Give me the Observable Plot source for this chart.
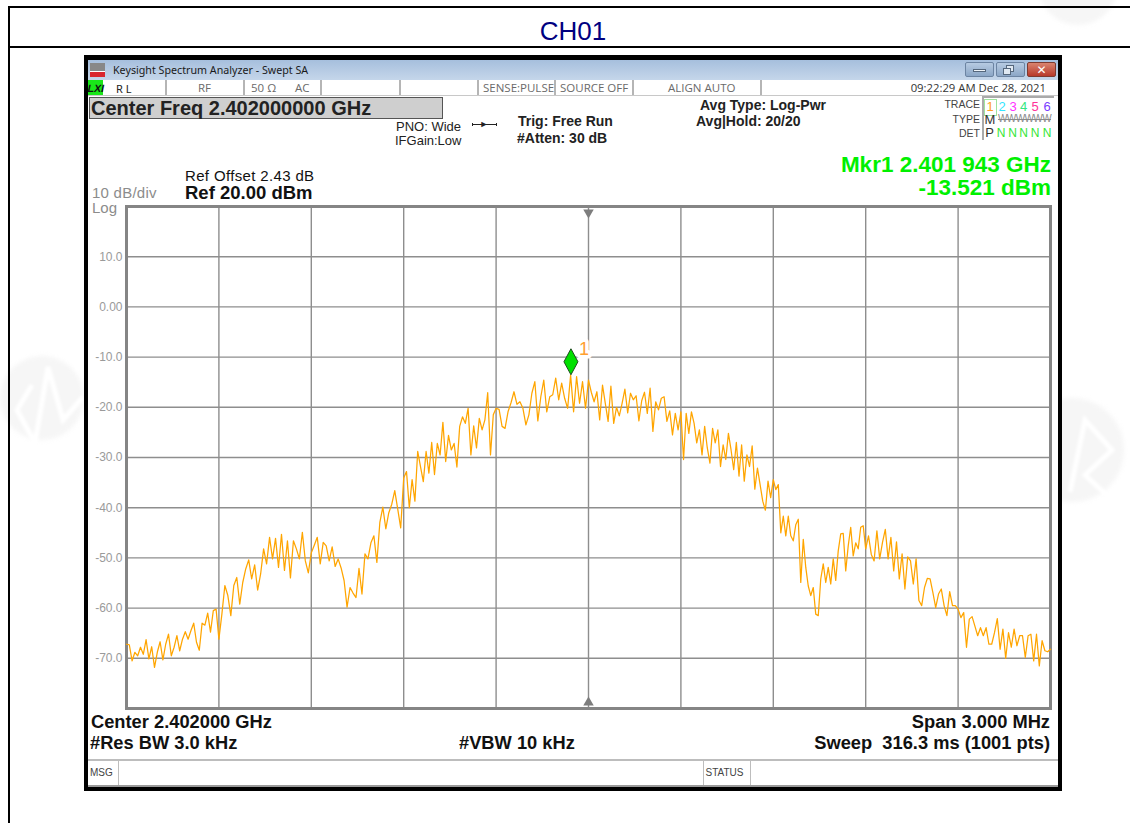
<!DOCTYPE html>
<html>
<head>
<meta charset="utf-8">
<script src="https://cdn.jsdelivr.net/npm/d3@7"></script>
<script src="https://cdn.jsdelivr.net/npm/@observablehq/plot@0.6"></script>
<style>
html,body{margin:0;padding:0;background:#fff;width:1130px;height:823px;overflow:hidden;font-family:"Liberation Sans",Arial,sans-serif}
#page{position:relative;width:1130px;height:823px;overflow:hidden}
.t{position:absolute;white-space:pre;line-height:1;transform:translateY(-50%)}
.r{transform:translate(-100%,-50%)}
.b{font-weight:bold}
.box{position:absolute;box-sizing:border-box}
.st{color:#6a6a6a;font-size:11.5px;font-family:"Open Sans","Noto Sans",sans-serif}
.wm{position:absolute;border-radius:50%;background:#f6f6f6;filter:blur(2px)}
</style>
</head>
<body>
<div id="page"></div>
<script>
// Trace 1 readings, dBm, one list per horizontal division (evenly spread over that division)
const div1 = [-67.2,-67.3,-70.5,-68.8,-69.5,-67.8,-69.2,-66.3,-70.1,-67.7,-71.8,-68.8,-66.7,-70.3,-67.2,-65.2,-69.5,-67.8,-65.5,-68.5,-66.2,-64.7,-66.2,-64.5,-63.0,-66.8,-68.4,-63,-63.4,-61,-64.8,-60.5,-60.2];
const div2 = [-66.2,-61.2,-55.5,-57.5,-61.5,-55.5,-53.9,-59.2,-54.9,-52.2,-50.4,-54.2,-51.4,-56.4,-53.2,-48.2,-51.2,-45.9,-50.2,-46.1,-51.9,-45.3,-52.5,-46.6,-54,-46.6,-48.2,-50.2,-44.9,-50.6,-53];
const div3 = [-49,-47.5,-45.9,-51.2,-46.9,-47.6,-50.6,-47.8,-51.7,-50.2,-52,-54.5,-59.8,-55.9,-57,-57.9,-52.1,-57.2,-49.2,-50.2,-47,-45.6,-50.9,-42.9,-39.9,-44.2,-41,-39.3,-36.6,-40.3,-44];
const div4 = [-34.1,-32.8,-40,-34.4,-38.7,-28.8,-31.8,-34.8,-28.8,-33.1,-27,-33.4,-27.2,-29.5,-23,-30.8,-25.6,-28.5,-27.2,-31.9,-23.8,-21.9,-23.2,-20.2,-29.5,-23.7,-28.1,-22.2,-24.5,-22.5,-17.1,-29.5,-21.5];
const div5 = [-20.2,-20.4,-23.8,-24.2,-20.9,-19.1,-16.9,-19.4,-18.9,-20.2,-23.5,-21.5,-17.2,-14.9,-22.7,-17.9,-14.6,-20.9,-17.9,-17.5,-14.2,-18.5,-15.2,-18.2,-20.2,-13.6,-20.9,-13.9,-19.2,-14.9,-20.2];
const div6 = [-14.6,-17,-18.9,-16.9,-22.5,-15.6,-19.2,-22.8,-15.8,-23.2,-20,-21.7,-19.2,-16.4,-21.1,-17.2,-18.5,-17.7,-22.7,-18.7,-17,-21.2,-16.2,-24.8,-18.9,-20.5,-18.2,-17.9,-22.8,-20.7,-25.5,-21.2,-24.5];
const div7 = [-20.9,-30.4,-21.2,-25.2,-20.9,-23.2,-27.1,-24.5,-29.5,-23.8,-28.1,-31.1,-24.2,-27.1,-24.5,-31.8,-27.5,-30.4,-25.2,-28.5,-32.4,-27,-33.7,-27.5,-34.7,-29.5,-31.8,-27.7,-36.3,-32.1,-35.4,-38.7,-40.5,-34.7,-38];
const div8 = [-34.4,-36.4,-35.4,-45,-41.7,-45.6,-41.7,-45.6,-46.6,-43.4,-42.3,-54.9,-46.3,-51.9,-55.6,-57.5,-55.9,-61.2,-61.5,-54.2,-51.2,-54.9,-51.9,-55.2,-50.2,-54.5,-48.6,-45.2,-45.1,-52.6,-47.6,-43.9,-49.6,-47,-48.2,-43.9,-43.6];
const div9 = [-48.2,-45.6,-49.3,-50.6,-44.6,-50.2,-46.9,-44.3,-50.2,-45.9,-52.6,-46.8,-54.2,-49.2,-56.2,-49.8,-50.6,-55.2,-50.2,-58.5,-59.5,-55.9,-54.1,-54.2,-56.9,-59.9,-57.2,-56.2,-59.5,-61.5,-56.7,-59.5,-59.5];
const div10 = [-60.2,-61.9,-60.9,-67.8,-62.2,-61.7,-63.6,-65.5,-63.9,-65.5,-63.9,-67.2,-67.2,-64.9,-62.1,-68.2,-64.2,-70,-64.9,-67.8,-64.2,-67.5,-65.5,-65.5,-69.8,-65.5,-65.2,-70.5,-65.2,-71.5,-66.5,-68.5,-68.7];
const divisions = [div1,div2,div3,div4,div5,div6,div7,div8,div9,div10];

const xGrid = [-1.2,-0.9,-0.6,-0.3,0,0.3,0.6,0.9,1.2];
const yGrid = [10,0,-10,-20,-30,-40,-50,-60,-70];
const markerOffset = [-0.057];   // 2.401943 GHz against the 2.402 GHz centre
const markerLevel = [-13.521];

const trace = divisions.flatMap((vals,d)=>vals.map((v,i)=>({f:-1.5+0.3*(d+i/vals.length),dbm:v})));
trace.push({f:1.5,dbm:-68.2});

const diamond = {draw(c){c.moveTo(0,0);c.lineTo(7,-13);c.lineTo(0,-26);c.lineTo(-7,-13);c.closePath();}};

const chart = Plot.plot({
  width:970,height:515,marginLeft:42,marginRight:4,marginTop:7,marginBottom:6,
  style:{background:"transparent",overflow:"visible"},
  x:{domain:[-1.5,1.5],axis:null},
  y:{domain:[-80,20],axis:null},
  marks:[
    Plot.ruleX(xGrid,{stroke:"#8e8e8e",strokeWidth:1.4}),
    Plot.ruleY(yGrid,{stroke:"#8e8e8e",strokeWidth:1.4}),
    Plot.frame({stroke:"#858585",strokeWidth:3}),
    Plot.axisY({ticks:yGrid,tickSize:0,tickPadding:4,label:null,
      tickFormat:d=>d===0?"0.00":d.toFixed(1),
      fontSize:12,fill:"#9a9a9a",fontFamily:"Liberation Sans"}),
    Plot.line(trace,{x:"f",y:"dbm",stroke:"#ffa500",strokeWidth:1.25,curve:"linear"}),
    Plot.dot([0],{x:d=>d,y:()=>20,symbol:"triangle2",r:5,fill:"#7d7d7d",stroke:"none",rotate:180,dy:6}),
    Plot.dot([0],{x:d=>d,y:()=>-80,symbol:"triangle2",r:5,fill:"#7d7d7d",stroke:"none",dy:-6}),
    Plot.text(markerOffset,{x:d=>d,y:()=>markerLevel[0],text:()=>"1",dx:13,dy:-26,fontSize:18,fill:"#ffa030",stroke:"#fff",strokeWidth:7,paintOrder:"stroke",fontFamily:"Liberation Sans"}),
    Plot.dot(markerOffset,{x:d=>d,y:()=>markerLevel[0],symbol:diamond,fill:"#00e000",stroke:"#1d4d1d",strokeWidth:1})
  ]
});

const page = document.getElementById("page");
function box(x,y,w,h,style){const e=document.createElement("div");e.className="box";e.style.cssText=`left:${x}px;top:${y}px;width:${w}px;height:${h}px;${style||""}`;page.appendChild(e);return e;}
function txt(s,x,y,size,opts={}){const e=document.createElement("div");e.className="t"+(opts.r?" r":"")+(opts.b?" b":"")+(opts.cls?" "+opts.cls:"");e.textContent=s;e.style.cssText=`left:${x}px;top:${y}px;${size?`font-size:${size}px;`:""}color:${opts.c||(opts.cls?"":"#000")};${opts.css||""}`;page.appendChild(e);return e;}

// faint background watermarks, each a pale disc crossed by white strokes
for(const [cx,cy,r] of [[42,398,42],[1072,450,52],[1078,-15,40]]){const w=document.createElement("div");w.className="wm";w.style.cssText=`left:${cx-r}px;top:${cy-r}px;width:${2*r}px;height:${2*r}px`;page.appendChild(w);}
page.insertAdjacentHTML("beforeend",`<svg width="1130" height="823" style="position:absolute;left:0;top:0;filter:blur(1.5px)" fill="none" stroke="#fff" stroke-width="5"><path d="M32 385L17 410L35 443L48 367L63 420L83 397"/><path d="M1070 492L1085 420L1112 450L1085 475L1112 500"/></svg>`);

// page table rules
box(9,6,1121,2,"background:#000");
box(9,46,1121,2,"background:#000");
box(8,6,2,817,"background:#000");
txt("CH01",573,31,26,{c:"#000080",css:"transform:translate(-50%,-50%)"});

// analyser window
box(84,55,978,736,"background:#000");
box(88,60,970,727,"background:#fff");
box(88,60,970,20,"background:linear-gradient(#a6bfdd,#c5d6ea)");
box(90,63,15,14,"background:linear-gradient(#888 0 55%,#fff 55% 66%,#d9262e 66%)");
txt("Keysight Spectrum Analyzer - Swept SA",113,69.5,10.7,{c:"#1a1a1a",css:"font-family:'Noto Sans',sans-serif"});
box(965,62,29,15,"background:linear-gradient(#b7cbe2,#8ba6c6);border:1px solid #6c84a2;border-radius:2px");
box(996,62,29,15,"background:linear-gradient(#b7cbe2,#8ba6c6);border:1px solid #6c84a2;border-radius:2px");
box(1027,62,29,15,"background:linear-gradient(#d9846f,#b8392a);border:1px solid #7d3a30;border-radius:2px");
box(973,69,13,3,"background:#eef3f8;border:1px solid #55677c");
box(1006,65,8,7,"background:#dfe8f2;border:1px solid #55677c");
box(1003,68,8,7,"background:#dfe8f2;border:1px solid #55677c");
txt("✕",1041.5,69.5,12,{c:"#fff",css:"transform:translate(-50%,-50%);font-weight:bold;font-family:'DejaVu Sans'"});

// status row
box(88,80,15,15,"background:#19e619");
txt("LXI",95.5,88,10.5,{b:1,c:"#111",css:"transform:translate(-50%,-50%) skewX(-12deg)"});
for(const x of [165,243,320,399,477,554,632,760]) box(x,80,1.5,15,"background:#b5b5b5");
box(88,95,970,1,"background:#c8c8c8");
txt("R L",116,87.5,11,{c:"#222",css:"font-family:'Noto Sans',sans-serif"});
const statusCells = [["RF",198],["50 Ω",251],["AC",295],["SENSE:PULSE",483],["SOURCE OFF",560],["ALIGN AUTO",668]];
for(const [s,x] of statusCells) txt(s,x,87.5,null,{cls:"st"});
txt("09:22:29 AM Dec 28, 2021",1046,87.5,11.3,{r:1,c:"#333",css:"font-family:'Open Sans','Noto Sans',sans-serif"});

// centre freq box
box(89,97,354,22,"background:#cfcfcf;border:1.5px solid #555");
txt("Center Freq 2.402000000 GHz",91,107.5,20,{b:1,c:"#222"});

// settings
txt("PNO: Wide",396,125.5,13,{c:"#222"});
txt("IFGain:Low",395,140,13,{c:"#222"});
box(472,124,25,1,"background:#222");
box(472,123,1,3,"background:#222");
box(496,123,1,3,"background:#222");
txt("►",484,124,9,{c:"#222",css:"transform:translate(-50%,-50%)"});
txt("Trig: Free Run",518,120.5,14,{b:1,c:"#222"});
txt("#Atten: 30 dB",517,137.5,14,{b:1,c:"#222"});
txt("Avg Type: Log-Pwr",700,104.5,14,{b:1,c:"#222"});
txt("Avg|Hold: 20/20",696,120.5,14,{b:1,c:"#222"});

// trace table
txt("TRACE",980,103.5,10.5,{r:1,c:"#444"});
txt("TYPE",980,118.5,10.5,{r:1,c:"#444"});
txt("DET",980,132.5,10.5,{r:1,c:"#444"});
box(982,96,72,2,"background:#aaa");
box(982,96,2,44,"background:#aaa");
box(984,99,13,17,"border:1px solid #9fe39f");
const traceNums = [["1","#ffa020",990],["2","#33e6ff",1002],["3","#ff33ff",1013],["4","#33e680",1023.5],["5","#ff3399",1035],["6","#7a3cff",1047]];
for(const [s,c,x] of traceNums) txt(s,x,106,13,{c,css:"transform:translate(-50%,-50%)"});
txt("M",990,119,13,{c:"#333",css:"transform:translate(-50%,-50%)"});
txt("WWWWWW",1024.5,118.5,10,{c:"#8a8a8a",css:"transform:translate(-50%,-50%);letter-spacing:-.6px;text-decoration:line-through"});
txt("P",989.5,132,13,{c:"#333",css:"transform:translate(-50%,-50%)"});
for(const x of [1001,1012.5,1023.5,1035,1047]) txt("N",x,132.5,12,{c:"#33e633",css:"transform:translate(-50%,-50%)"});

// marker readout
txt("Mkr1 2.401 943 GHz",1051,164.5,22.5,{r:1,b:1,c:"#00f000"});
txt("-13.521 dBm",1051,187.5,22.5,{r:1,b:1,c:"#00f000"});

// reference
txt("Ref Offset 2.43 dB",185,174.5,15,{c:"#111",css:"letter-spacing:.35px"});
txt("Ref 20.00 dBm",185,192.5,18.5,{b:1,c:"#111"});
txt("10 dB/div",92,192,15,{c:"#8c8c8c",css:"letter-spacing:.25px"});
txt("Log",92,207,15,{c:"#8c8c8c"});

// plot
const holder = document.createElement("div");
holder.style.cssText="position:absolute;left:84px;top:199px;width:970px;height:515px";
holder.appendChild(chart);
page.appendChild(holder);

// footer
txt("Center 2.402000 GHz",91,722,18.3,{b:1,c:"#111"});
txt("#Res BW 3.0 kHz",90,743,18.3,{b:1,c:"#111"});
txt("#VBW 10 kHz",459,743,18.3,{b:1,c:"#111"});
txt("Span 3.000 MHz",1050,722,18.3,{r:1,b:1,c:"#111"});
txt("Sweep  316.3 ms (1001 pts)",1050,743,18.3,{r:1,b:1,c:"#111"});
box(88,759,970,1.5,"background:#bdbdbd");
box(88,785,970,2,"background:#9a9a9a");
box(118,759,1,26,"background:#bdbdbd");
box(703,759,1,26,"background:#bdbdbd");
box(750,759,1,26,"background:#bdbdbd");
txt("MSG",90,772.5,10,{c:"#444"});
txt("STATUS",705.5,772.5,10,{c:"#444"});
</script>
</body>
</html>
